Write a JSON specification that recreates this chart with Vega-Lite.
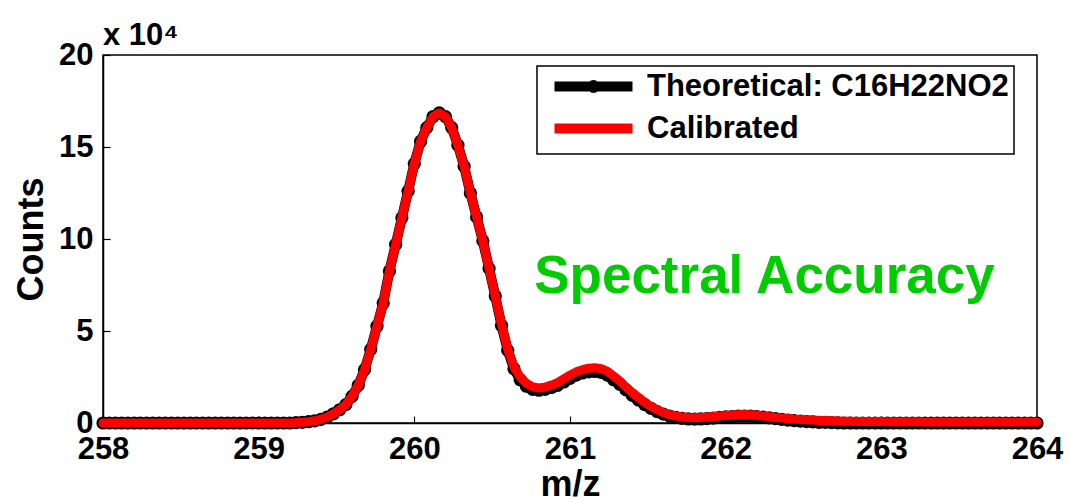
{
  "$schema": "https://vega.github.io/schema/vega-lite/v6.json",
  "width": 934,
  "height": 368,
  "autosize": {"type": "none"},
  "padding": {"left": 103, "top": 55, "right": 33, "bottom": 78},
  "background": "white",
  "config": {
    "view": {"stroke": "black", "strokeWidth": 1.5},
    "axis": {"domainColor": "black", "domainWidth": 1.5, "tickColor": "black", "tickWidth": 1.2, "grid": false,
      "labelFont": "Liberation Sans", "labelFontWeight": "bold", "labelFontSize": 31, "labelColor": "black",
      "titleFont": "Liberation Sans", "titleFontWeight": "bold", "titleFontSize": 36, "titleColor": "black"}
  },
  "data": {"values": [
    {"mz":258,"Theoretical":0,"Calibrated":0},
    {"mz":258.04,"Theoretical":0,"Calibrated":0},
    {"mz":258.08,"Theoretical":0,"Calibrated":0},
    {"mz":258.12,"Theoretical":0,"Calibrated":0},
    {"mz":258.16,"Theoretical":0,"Calibrated":0},
    {"mz":258.2,"Theoretical":0,"Calibrated":0},
    {"mz":258.24,"Theoretical":0,"Calibrated":0},
    {"mz":258.28,"Theoretical":0,"Calibrated":0},
    {"mz":258.32,"Theoretical":0,"Calibrated":0},
    {"mz":258.36,"Theoretical":0,"Calibrated":0},
    {"mz":258.4,"Theoretical":0,"Calibrated":0},
    {"mz":258.44,"Theoretical":0,"Calibrated":0},
    {"mz":258.48,"Theoretical":0,"Calibrated":0},
    {"mz":258.52,"Theoretical":0,"Calibrated":0},
    {"mz":258.56,"Theoretical":0,"Calibrated":0},
    {"mz":258.6,"Theoretical":0,"Calibrated":0},
    {"mz":258.64,"Theoretical":0,"Calibrated":0},
    {"mz":258.68,"Theoretical":0,"Calibrated":0},
    {"mz":258.72,"Theoretical":0,"Calibrated":0},
    {"mz":258.76,"Theoretical":0,"Calibrated":0},
    {"mz":258.8,"Theoretical":0,"Calibrated":0},
    {"mz":258.84,"Theoretical":0,"Calibrated":0},
    {"mz":258.88,"Theoretical":0,"Calibrated":0},
    {"mz":258.92,"Theoretical":0,"Calibrated":0},
    {"mz":258.96,"Theoretical":0,"Calibrated":0},
    {"mz":259,"Theoretical":0,"Calibrated":0},
    {"mz":259.04,"Theoretical":0,"Calibrated":0},
    {"mz":259.08,"Theoretical":0,"Calibrated":0},
    {"mz":259.12,"Theoretical":0,"Calibrated":0},
    {"mz":259.16,"Theoretical":0,"Calibrated":0},
    {"mz":259.2,"Theoretical":0,"Calibrated":0},
    {"mz":259.24,"Theoretical":200,"Calibrated":200},
    {"mz":259.28,"Theoretical":400,"Calibrated":400},
    {"mz":259.32,"Theoretical":700,"Calibrated":700},
    {"mz":259.36,"Theoretical":1200,"Calibrated":1200},
    {"mz":259.4,"Theoretical":2000,"Calibrated":2000},
    {"mz":259.44,"Theoretical":3200,"Calibrated":3200},
    {"mz":259.48,"Theoretical":5000,"Calibrated":5000},
    {"mz":259.52,"Theoretical":7200,"Calibrated":7200},
    {"mz":259.56,"Theoretical":10000,"Calibrated":10000},
    {"mz":259.6,"Theoretical":14500,"Calibrated":14500},
    {"mz":259.64,"Theoretical":20500,"Calibrated":20500},
    {"mz":259.68,"Theoretical":29000,"Calibrated":29000},
    {"mz":259.72,"Theoretical":40000,"Calibrated":40000},
    {"mz":259.76,"Theoretical":52600,"Calibrated":52600},
    {"mz":259.8,"Theoretical":65200,"Calibrated":65200},
    {"mz":259.84,"Theoretical":82600,"Calibrated":82600},
    {"mz":259.88,"Theoretical":97000,"Calibrated":97000},
    {"mz":259.92,"Theoretical":111500,"Calibrated":111500},
    {"mz":259.96,"Theoretical":126000,"Calibrated":126000},
    {"mz":260,"Theoretical":141000,"Calibrated":141000},
    {"mz":260.04,"Theoretical":153000,"Calibrated":153000},
    {"mz":260.08,"Theoretical":160500,"Calibrated":160500},
    {"mz":260.12,"Theoretical":166500,"Calibrated":166500},
    {"mz":260.16,"Theoretical":168500,"Calibrated":168500},
    {"mz":260.2,"Theoretical":166500,"Calibrated":166500},
    {"mz":260.24,"Theoretical":160500,"Calibrated":160500},
    {"mz":260.28,"Theoretical":151000,"Calibrated":151000},
    {"mz":260.32,"Theoretical":139500,"Calibrated":139500},
    {"mz":260.36,"Theoretical":125000,"Calibrated":125000},
    {"mz":260.4,"Theoretical":112000,"Calibrated":112000},
    {"mz":260.44,"Theoretical":99000,"Calibrated":99000},
    {"mz":260.48,"Theoretical":84000,"Calibrated":84000},
    {"mz":260.52,"Theoretical":69000,"Calibrated":69000},
    {"mz":260.56,"Theoretical":53000,"Calibrated":53500},
    {"mz":260.6,"Theoretical":39500,"Calibrated":40000},
    {"mz":260.64,"Theoretical":29500,"Calibrated":30500},
    {"mz":260.68,"Theoretical":23500,"Calibrated":25000},
    {"mz":260.72,"Theoretical":20000,"Calibrated":21500},
    {"mz":260.76,"Theoretical":18300,"Calibrated":19600},
    {"mz":260.8,"Theoretical":17800,"Calibrated":19000},
    {"mz":260.84,"Theoretical":18300,"Calibrated":19500},
    {"mz":260.88,"Theoretical":19300,"Calibrated":20500},
    {"mz":260.92,"Theoretical":20500,"Calibrated":22000},
    {"mz":260.96,"Theoretical":22300,"Calibrated":24000},
    {"mz":261,"Theoretical":24300,"Calibrated":26000},
    {"mz":261.04,"Theoretical":26000,"Calibrated":27800},
    {"mz":261.08,"Theoretical":27200,"Calibrated":29000},
    {"mz":261.12,"Theoretical":27800,"Calibrated":29800},
    {"mz":261.16,"Theoretical":28000,"Calibrated":30000},
    {"mz":261.2,"Theoretical":27500,"Calibrated":29500},
    {"mz":261.24,"Theoretical":26000,"Calibrated":28000},
    {"mz":261.28,"Theoretical":23500,"Calibrated":25500},
    {"mz":261.32,"Theoretical":21000,"Calibrated":22800},
    {"mz":261.36,"Theoretical":18000,"Calibrated":19500},
    {"mz":261.4,"Theoretical":15000,"Calibrated":16500},
    {"mz":261.44,"Theoretical":12500,"Calibrated":13800},
    {"mz":261.48,"Theoretical":10000,"Calibrated":11200},
    {"mz":261.52,"Theoretical":8000,"Calibrated":9000},
    {"mz":261.56,"Theoretical":6200,"Calibrated":7200},
    {"mz":261.6,"Theoretical":4800,"Calibrated":5600},
    {"mz":261.64,"Theoretical":3800,"Calibrated":4500},
    {"mz":261.68,"Theoretical":3000,"Calibrated":3800},
    {"mz":261.72,"Theoretical":2500,"Calibrated":3300},
    {"mz":261.76,"Theoretical":2200,"Calibrated":3000},
    {"mz":261.8,"Theoretical":2100,"Calibrated":2900},
    {"mz":261.84,"Theoretical":2200,"Calibrated":3000},
    {"mz":261.88,"Theoretical":2400,"Calibrated":3200},
    {"mz":261.92,"Theoretical":2700,"Calibrated":3500},
    {"mz":261.96,"Theoretical":3000,"Calibrated":3800},
    {"mz":262,"Theoretical":3300,"Calibrated":4100},
    {"mz":262.04,"Theoretical":3500,"Calibrated":4300},
    {"mz":262.08,"Theoretical":3700,"Calibrated":4500},
    {"mz":262.12,"Theoretical":3800,"Calibrated":4600},
    {"mz":262.16,"Theoretical":3700,"Calibrated":4500},
    {"mz":262.2,"Theoretical":3500,"Calibrated":4200},
    {"mz":262.24,"Theoretical":3200,"Calibrated":3800},
    {"mz":262.28,"Theoretical":2800,"Calibrated":3400},
    {"mz":262.32,"Theoretical":2400,"Calibrated":3000},
    {"mz":262.36,"Theoretical":2000,"Calibrated":2700},
    {"mz":262.4,"Theoretical":1600,"Calibrated":2400},
    {"mz":262.44,"Theoretical":1300,"Calibrated":2100},
    {"mz":262.48,"Theoretical":1000,"Calibrated":1900},
    {"mz":262.52,"Theoretical":800,"Calibrated":1700},
    {"mz":262.56,"Theoretical":600,"Calibrated":1600},
    {"mz":262.6,"Theoretical":400,"Calibrated":1400},
    {"mz":262.64,"Theoretical":300,"Calibrated":1300},
    {"mz":262.68,"Theoretical":200,"Calibrated":1200},
    {"mz":262.72,"Theoretical":100,"Calibrated":1100},
    {"mz":262.76,"Theoretical":0,"Calibrated":1000},
    {"mz":262.8,"Theoretical":0,"Calibrated":900},
    {"mz":262.84,"Theoretical":0,"Calibrated":850},
    {"mz":262.88,"Theoretical":0,"Calibrated":800},
    {"mz":262.92,"Theoretical":0,"Calibrated":800},
    {"mz":262.96,"Theoretical":0,"Calibrated":750},
    {"mz":263,"Theoretical":0,"Calibrated":750},
    {"mz":263.04,"Theoretical":0,"Calibrated":700},
    {"mz":263.08,"Theoretical":0,"Calibrated":700},
    {"mz":263.12,"Theoretical":0,"Calibrated":700},
    {"mz":263.16,"Theoretical":0,"Calibrated":650},
    {"mz":263.2,"Theoretical":0,"Calibrated":650},
    {"mz":263.24,"Theoretical":0,"Calibrated":650},
    {"mz":263.28,"Theoretical":0,"Calibrated":600},
    {"mz":263.32,"Theoretical":0,"Calibrated":600},
    {"mz":263.36,"Theoretical":0,"Calibrated":600},
    {"mz":263.4,"Theoretical":0,"Calibrated":600},
    {"mz":263.44,"Theoretical":0,"Calibrated":550},
    {"mz":263.48,"Theoretical":0,"Calibrated":550},
    {"mz":263.52,"Theoretical":0,"Calibrated":550},
    {"mz":263.56,"Theoretical":0,"Calibrated":550},
    {"mz":263.6,"Theoretical":0,"Calibrated":550},
    {"mz":263.64,"Theoretical":0,"Calibrated":500},
    {"mz":263.68,"Theoretical":0,"Calibrated":500},
    {"mz":263.72,"Theoretical":0,"Calibrated":500},
    {"mz":263.76,"Theoretical":0,"Calibrated":500},
    {"mz":263.8,"Theoretical":0,"Calibrated":500},
    {"mz":263.84,"Theoretical":0,"Calibrated":500},
    {"mz":263.88,"Theoretical":0,"Calibrated":500},
    {"mz":263.92,"Theoretical":0,"Calibrated":500},
    {"mz":263.96,"Theoretical":0,"Calibrated":500},
    {"mz":264,"Theoretical":0,"Calibrated":500}
  ]},
  "layer": [
    {
      "transform": [{"fold": ["Theoretical", "Calibrated"], "as": ["series", "counts"]}, {"filter": "datum.series === 'Theoretical'"}],
      "mark": {"type": "line", "strokeWidth": 10, "strokeJoin": "round", "strokeCap": "round"},
      "encoding": {
        "x": {"field": "mz", "type": "quantitative", "scale": {"domain": [258, 264], "nice": false, "zero": false},
          "axis": {"title": "m/z", "values": [258, 259, 260, 261, 262, 263, 264], "format": "d", "tickSize": -7, "labelPadding": 18, "titlePadding": 3, "labelFlush": false}},
        "y": {"field": "counts", "type": "quantitative", "scale": {"domain": [0, 200000], "nice": false},
          "axis": {"title": "Counts", "values": [0, 50000, 100000, 150000, 200000], "labelExpr": "datum.value / 10000", "tickSize": -7, "labelPadding": 17, "titlePadding": 8}},
        "color": {"field": "series", "type": "nominal",
          "scale": {"domain": ["Theoretical", "Calibrated"], "range": ["black", "red"]},
          "legend": {"orient": "none", "legendX": 434, "legendY": 11, "title": null,
            "fillColor": "white", "strokeColor": "black", "padding": 5, "rowPadding": 0,
            "symbolSize": 400, "symbolStrokeWidth": 10, "labelOffset": 74, "labelLimit": 0,
            "labelFont": "Liberation Sans", "labelFontWeight": "bold", "labelFontSize": 31, "labelColor": "black",
            "labelExpr": "datum.value === 'Theoretical' ? 'Theoretical: C16H22NO2' : datum.value",
            "encode": {
              "symbols": {"update": {"shape": {"signal": "datum.value === 'Theoretical' ? 'M-0.3,0H7.5M3.45,0A0.15,0.15 0 1,0 3.75,0A0.15,0.15 0 1,0 3.45,0' : 'M-0.3,0H7.5'"}}},
              "legend": {"update": {"strokeWidth": {"value": 1.5}}}
            }}
        }
      }
    },
    {
      "transform": [{"fold": ["Theoretical", "Calibrated"], "as": ["series", "counts"]}, {"filter": "datum.series === 'Theoretical'"}],
      "mark": {"type": "point", "filled": true, "size": 175, "color": "black", "opacity": 1},
      "encoding": {
        "x": {"field": "mz", "type": "quantitative"},
        "y": {"field": "counts", "type": "quantitative"}
      }
    },
    {
      "transform": [{"fold": ["Theoretical", "Calibrated"], "as": ["series", "counts"]}, {"filter": "datum.series === 'Calibrated'"}],
      "mark": {"type": "line", "strokeWidth": 9, "strokeJoin": "round", "strokeCap": "round"},
      "encoding": {
        "x": {"field": "mz", "type": "quantitative"},
        "y": {"field": "counts", "type": "quantitative"},
        "color": {"field": "series", "type": "nominal"}
      }
    },
    {
      "data": {"values": [{"mz": 260.77, "counts": 70700, "label": "Spectral Accuracy"}]},
      "mark": {"type": "text", "align": "left", "baseline": "alphabetic", "font": "Liberation Sans", "fontWeight": "bold", "fontSize": 53, "color": "#00cc00"},
      "encoding": {
        "x": {"field": "mz", "type": "quantitative"},
        "y": {"field": "counts", "type": "quantitative"},
        "text": {"field": "label"}
      }
    },
    {
      "data": {"values": [{"mz": 258, "counts": 200000, "label": "x 10⁴"}]},
      "mark": {"type": "text", "align": "left", "baseline": "alphabetic", "dy": -10, "font": "Liberation Sans", "fontWeight": "bold", "fontSize": 31, "color": "black"},
      "encoding": {
        "x": {"field": "mz", "type": "quantitative"},
        "y": {"field": "counts", "type": "quantitative"},
        "text": {"field": "label"}
      }
    }
  ]
}
